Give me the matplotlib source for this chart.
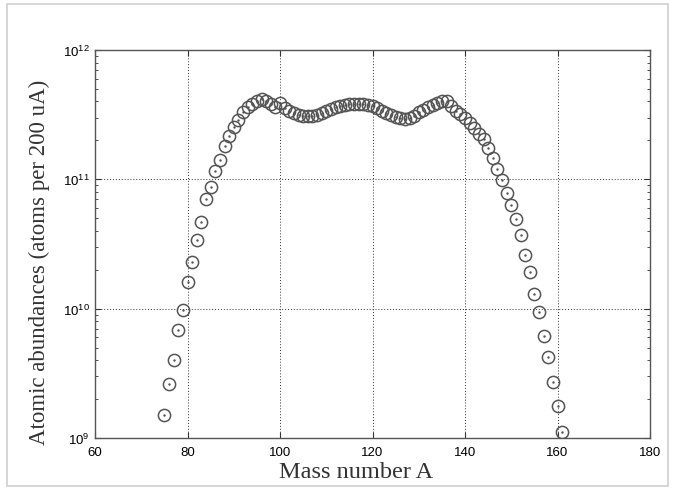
import matplotlib
matplotlib.use("Agg")
import matplotlib.pyplot as plt
from matplotlib.patches import Rectangle
from matplotlib.ticker import LogLocator, NullFormatter

mass_number = list(range(75, 162))
abundance = [
    1.5e9, 2.6e9, 4.0e9, 6.8e9, 9.8e9,
    1.6e10, 2.3e10, 3.4e10, 4.7e10, 7.0e10,
    8.8e10, 1.15e11, 1.4e11, 1.8e11, 2.15e11,
    2.55e11, 2.9e11, 3.3e11, 3.6e11, 3.85e11,
    4.0e11, 4.15e11, 4.0e11, 3.8e11, 3.6e11,
    3.9e11, 3.55e11, 3.4e11, 3.25e11, 3.15e11,
    3.1e11, 3.1e11, 3.1e11, 3.15e11, 3.25e11,
    3.35e11, 3.5e11, 3.6e11, 3.7e11, 3.75e11,
    3.8e11, 3.85e11, 3.8e11, 3.85e11, 3.75e11,
    3.7e11, 3.55e11, 3.4e11, 3.25e11, 3.15e11,
    3.05e11, 3.0e11, 2.95e11, 3.0e11, 3.1e11,
    3.3e11, 3.45e11, 3.6e11, 3.75e11, 3.9e11,
    4.05e11, 4.0e11, 3.7e11, 3.4e11, 3.2e11,
    3.0e11, 2.75e11, 2.5e11, 2.25e11, 2.05e11,
    1.75e11, 1.45e11, 1.2e11, 9.9e10, 7.8e10,
    6.3e10, 4.9e10, 3.7e10, 2.6e10, 1.93e10,
    1.3e10, 9.4e9, 6.2e9, 4.2e9, 2.7e9,
    1.76e9, 1.12e9,
]

x_ticks = [60, 80, 100, 120, 140, 160, 180]
x_label = "Mass number A"
y_label = "Atomic abundances (atoms per 200 uA)"

plt.rcParams["font.family"] = ["Liberation Sans", "DejaVu Sans"]

fig = plt.figure(figsize=(6.75, 4.89), dpi=100)
fig.patch.set_facecolor("white")
fig.add_artist(Rectangle((7 / 675, 1 - 487 / 489), 661 / 675, 482 / 489,
                         transform=fig.transFigure, fill=False,
                         edgecolor="#cfcfcf", linewidth=1.2))

ax = fig.add_axes([95 / 675, 1 - 439 / 489, 555 / 675, 388 / 489])
ax.set_yscale("log")
ax.plot(mass_number, abundance, linestyle="none", marker="o",
        markersize=8.8, markerfacecolor="none", markeredgecolor="#555555",
        markeredgewidth=1.1)
ax.plot(mass_number, abundance, linestyle="none", marker=".",
        markersize=1.5, color="#555555")

ax.set_xlim(60, 180)
ax.set_ylim(1e9, 1e12)
ax.set_xticks(x_ticks)
ax.set_xticklabels([str(t) for t in x_ticks])
ax.yaxis.set_major_locator(LogLocator(base=10, numticks=10))
ax.yaxis.set_minor_locator(LogLocator(base=10, subs=range(2, 10), numticks=100))
ax.yaxis.set_minor_formatter(NullFormatter())

ax.grid(True, which="major", linestyle=(0, (1, 2)), color="#333333", linewidth=0.7)
ax.tick_params(which="both", direction="in", top=True, right=True,
               labelsize=9.5, colors="#333333", labelcolor="black")
ax.tick_params(axis="x", which="major", length=4, pad=6)
ax.tick_params(axis="y", which="major", length=4, pad=4)
ax.tick_params(which="minor", length=2.5)
for s in ax.spines.values():
    s.set_color("#555555")
    s.set_linewidth(1.0)

ax.set_xlabel(x_label, family=["Liberation Serif", "DejaVu Serif"],
              fontsize=17.5, color="#333333", labelpad=2)
ax.set_ylabel(y_label, family=["Liberation Serif", "DejaVu Serif"],
              fontsize=16.5, color="#333333", labelpad=4)
ax.xaxis.label.set_x(0.47)
ax.yaxis.set_label_coords(-45 / 555, 0.456)

fig.savefig("out.png", dpi=100)
